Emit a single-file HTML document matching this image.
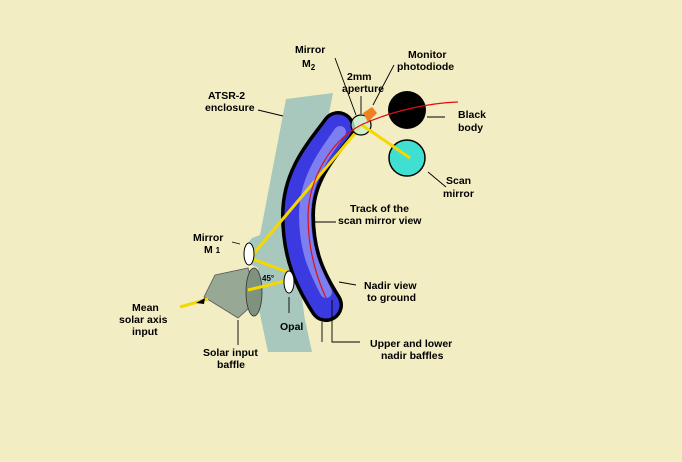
<!DOCTYPE html>
<html><head><meta charset="utf-8"><style>
html,body{margin:0;padding:0;background:#f2edc2;}
svg{display:block}
text{font-family:"Liberation Sans",Arial,sans-serif;font-weight:bold;font-size:10.5px;fill:#000}
</style></head><body>
<svg width="682" height="462" viewBox="0 0 682 462">
<rect width="682" height="462" fill="#f2edc2"/>
<path d="M286,99 L333,93 L318,170 L300,230 L298,270 L305,320 L312,352 L268,352 L258,305 L258,268 L246,262 L244,248 L252,238 L260,235 Z" fill="#a9c8bd"/>
<path d="M338,128 C322,150 298,175 298,215 C298,255 310,280 326,305" fill="none" stroke="#000" stroke-width="34" stroke-linecap="round"/>
<path d="M338,128 C322,150 298,175 298,215 C298,255 310,280 326,305" fill="none" stroke="#3a3ae0" stroke-width="27" stroke-linecap="round"/>
<path d="M340,132 C326,152 305,178 305,215 C305,252 316,272 326,292" fill="none" stroke="#7d7ef0" stroke-width="12" stroke-linecap="round"/>
<polygon points="215,275 248,268 258,300 238,318 204,297" fill="#97a994" stroke="#555" stroke-width="0.8"/>
<ellipse cx="254" cy="292" rx="8" ry="24" fill="#7f927e" stroke="#333" stroke-width="0.8"/>
<g stroke="#f5d800" stroke-width="3" fill="none">
<line x1="180" y1="307" x2="208" y2="299"/>
<line x1="248" y1="290" x2="285" y2="281"/>
<line x1="250" y1="258" x2="290" y2="273"/>
<line x1="250" y1="258" x2="362" y2="125"/>
</g>
<polygon points="196,303 205,298 204,304" fill="#000"/>
<ellipse cx="249" cy="254" rx="5" ry="11" fill="#fff" stroke="#000" stroke-width="1"/>
<ellipse cx="289" cy="282" rx="5" ry="11" fill="#fff" stroke="#000" stroke-width="1"/>
<text x="262" y="281" style="font-size:8px">45°</text>
<circle cx="407" cy="110" r="19" fill="#000"/>
<circle cx="407" cy="158" r="18" fill="#3fe0d2" stroke="#000" stroke-width="1.5"/>
<line x1="362" y1="125" x2="410" y2="158" stroke="#f5d800" stroke-width="3"/>
<circle cx="361" cy="125" r="10" fill="#c8efcf" stroke="#000" stroke-width="1.2" fill-opacity="0.8"/>
<polygon points="363,113 372,107 377,113 368,122" fill="#f08020"/>
<line x1="362" y1="125" x2="372" y2="132" stroke="#f5d800" stroke-width="3"/>
<path d="M326,298 C314,272 308,245 308,215 C309,180 330,140 363,124 C395,110 430,103 458,102" fill="none" stroke="#e01010" stroke-width="1.2"/>
<g stroke="#000" stroke-width="0.9" fill="none">
<line x1="258" y1="110" x2="283" y2="116"/>
<line x1="335" y1="58" x2="356" y2="115"/>
<line x1="361" y1="96" x2="361" y2="114"/>
<line x1="394" y1="65" x2="373" y2="105"/>
<line x1="427" y1="117" x2="445" y2="117"/>
<line x1="428" y1="172" x2="446" y2="187"/>
<line x1="312" y1="222" x2="336" y2="222"/>
<line x1="240" y1="244" x2="232" y2="242"/>
<line x1="339" y1="282" x2="356" y2="285"/>
<line x1="289" y1="297" x2="289" y2="313"/>
<line x1="238" y1="320" x2="238" y2="345"/>
<polyline points="332,300 332,342 360,342"/>
<line x1="322" y1="322" x2="322" y2="342"/>
</g>
<text x="295" y="53">Mirror</text><text x="302" y="67">M<tspan style="font-size:8px" dy="3">2</tspan></text>
<text x="347" y="80">2mm</text><text x="342" y="92">aperture</text>
<text x="408" y="58">Monitor</text><text x="397" y="70">photodiode</text>
<text x="208" y="99">ATSR-2</text><text x="205" y="111">enclosure</text>
<text x="458" y="118">Black</text><text x="458" y="131">body</text>
<text x="446" y="184">Scan</text><text x="443" y="197">mirror</text>
<text x="350" y="212">Track of the</text><text x="338" y="224">scan mirror view</text>
<text x="193" y="241">Mirror</text><text x="204" y="253">M <tspan style="font-size:8px">1</tspan></text>
<text x="364" y="289">Nadir view</text><text x="367" y="301">to ground</text>
<text x="132" y="311">Mean</text><text x="119" y="323">solar axis</text><text x="132" y="335">input</text>
<text x="280" y="330">Opal</text>
<text x="203" y="356">Solar input</text><text x="217" y="368">baffle</text>
<text x="370" y="347">Upper and lower</text><text x="381" y="359">nadir baffles</text>
</svg>
</body></html>
